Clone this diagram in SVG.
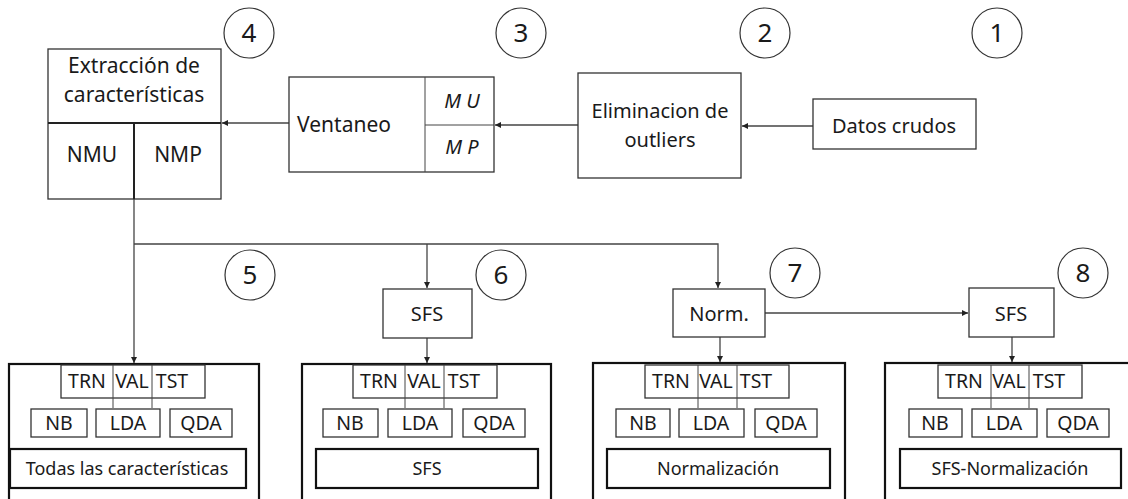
<svg xmlns="http://www.w3.org/2000/svg" width="1128" height="499" viewBox="0 0 1128 499">
<defs>
<marker id="ah" viewBox="0 0 10 10" refX="10" refY="5" markerWidth="6" markerHeight="6" markerUnits="userSpaceOnUse" orient="auto">
<path d="M0,0 L10,5 L0,10 z" fill="#222"/>
</marker>
<style>
text{font-family:"Noto Sans","Open Sans",sans-serif;fill:#1a1a1a;text-anchor:middle}
.t20{font-size:20px}
.t21{font-size:21px}
.t19{font-size:19.5px}
.t18{font-size:18px}
.num{font-size:26px}
.it{font-size:20px;font-style:italic}
.box{fill:#fff;stroke:#333;stroke-width:1.3}
.thick{fill:none;stroke:#111;stroke-width:2.2}
.div{stroke:#222;stroke-width:2;fill:none}
.thin{stroke:#444;stroke-width:1;fill:none}
.circ{fill:#fff;stroke:#333;stroke-width:1.2}
.con{stroke:#444;stroke-width:1.3;fill:none}
</style>
</defs>
<rect width="1128" height="499" fill="#fff"/>

<g id="connectors">
<line class="con" x1="813" y1="126" x2="742" y2="126" marker-end="url(#ah)"/>
<line class="con" x1="578" y1="125" x2="495" y2="125" marker-end="url(#ah)"/>
<line class="con" x1="289" y1="123" x2="222" y2="123" marker-end="url(#ah)"/>
<line class="con" x1="134" y1="199" x2="134" y2="363" marker-end="url(#ah)"/>
<polyline class="con" points="134,244 718,244 718,288" marker-end="url(#ah)"/>
<line class="con" x1="427" y1="244" x2="427" y2="288" marker-end="url(#ah)"/>
<line class="con" x1="427" y1="338" x2="427" y2="363" marker-end="url(#ah)"/>
<line class="con" x1="720" y1="337" x2="720" y2="362" marker-end="url(#ah)"/>
<line class="con" x1="765" y1="313" x2="968" y2="313" marker-end="url(#ah)"/>
<line class="con" x1="1012" y1="337" x2="1012" y2="362" marker-end="url(#ah)"/>
</g>

<g id="circles">
<g id="c1"><circle class="circ" cx="997" cy="33" r="25"/><text class="num" x="997" y="42">1</text></g>
<g id="c2"><circle class="circ" cx="765" cy="33" r="25"/><text class="num" x="765" y="42">2</text></g>
<g id="c3"><circle class="circ" cx="521" cy="33" r="25"/><text class="num" x="521" y="42">3</text></g>
<g id="c4"><circle class="circ" cx="249" cy="33" r="25"/><text class="num" x="249" y="42">4</text></g>
<g id="c5"><circle class="circ" cx="250" cy="275" r="25"/><text class="num" x="250" y="284">5</text></g>
<g id="c6"><circle class="circ" cx="501" cy="275" r="25"/><text class="num" x="501" y="284">6</text></g>
<g id="c7"><circle class="circ" cx="795" cy="273" r="25"/><text class="num" x="795" y="282">7</text></g>
<g id="c8"><circle class="circ" cx="1083" cy="273" r="25"/><text class="num" x="1083" y="282">8</text></g>
</g>

<g id="datos">
<rect class="box" x="813" y="99" width="163" height="50"/>
<text class="t20" x="894" y="133">Datos crudos</text>
</g>

<g id="outliers">
<rect class="box" x="578" y="73" width="163" height="105"/>
<text class="t20" x="660" y="118">Eliminacion de</text>
<text class="t20" x="660" y="147">outliers</text>
</g>

<g id="ventaneo">
<rect class="box" x="289" y="77" width="205" height="95"/>
<line class="thin" x1="425" y1="77" x2="425" y2="172"/>
<line class="thin" x1="425" y1="125" x2="494" y2="125"/>
<text class="t21" x="344" y="132">Ventaneo</text>
<text class="it" x="462" y="108">M U</text>
<text class="it" x="462" y="154">M P</text>
</g>

<g id="extraccion">
<rect class="box" x="48" y="49" width="173" height="150"/>
<line class="div" x1="48" y1="123" x2="221" y2="123"/>
<line class="div" x1="134" y1="123" x2="134" y2="199"/>
<text class="t21" x="134" y="73">Extracción de</text>
<text class="t21" x="134" y="102">características</text>
<text class="t21" x="92" y="162">NMU</text>
<text class="t21" x="178" y="162">NMP</text>
</g>

<g id="sfs1">
<rect class="box" x="383" y="289" width="89" height="49"/>
<text class="t20" x="427" y="321">SFS</text>
</g>
<g id="norm">
<rect class="box" x="673" y="289" width="92" height="48"/>
<text class="t20" x="719" y="321">Norm.</text>
</g>
<g id="sfs2">
<rect class="box" x="969" y="288" width="85" height="49"/>
<text class="t20" x="1011" y="321">SFS</text>
</g>

<g id="panel1">
<rect class="thick" x="9" y="364" width="250" height="150"/>
<rect class="box" x="61" y="365" width="144" height="33"/>
<line class="thin" x1="113" y1="365" x2="113" y2="408"/>
<line class="thin" x1="152" y1="365" x2="152" y2="408"/>
<text class="t19" x="87" y="388">TRN</text><text class="t19" x="132" y="388">VAL</text><text class="t19" x="172" y="388">TST</text>
<rect class="box" x="31" y="409" width="56" height="28"/><text class="t19" x="59" y="430">NB</text>
<rect class="box" x="96" y="409" width="64" height="28"/><text class="t19" x="128" y="430">LDA</text>
<rect class="box" x="170" y="409" width="62" height="28"/><text class="t19" x="201" y="430">QDA</text>
<rect class="thick" x="10" y="449" width="236" height="39"/>
<text class="t18" x="127" y="475">Todas las características</text>
</g>

<g id="panel2">
<rect class="thick" x="302" y="364" width="249" height="150"/>
<rect class="box" x="353" y="365" width="144" height="33"/>
<line class="thin" x1="405" y1="365" x2="405" y2="408"/>
<line class="thin" x1="444" y1="365" x2="444" y2="408"/>
<text class="t19" x="379" y="388">TRN</text><text class="t19" x="424" y="388">VAL</text><text class="t19" x="464" y="388">TST</text>
<rect class="box" x="323" y="409" width="55" height="28"/><text class="t19" x="350" y="430">NB</text>
<rect class="box" x="388" y="409" width="64" height="28"/><text class="t19" x="420" y="430">LDA</text>
<rect class="box" x="463" y="409" width="62" height="28"/><text class="t19" x="494" y="430">QDA</text>
<rect class="thick" x="316" y="449" width="222" height="39"/>
<text class="t18" x="427" y="475">SFS</text>
</g>

<g id="panel3">
<rect class="thick" x="593" y="363" width="252" height="150"/>
<rect class="box" x="645" y="365" width="144" height="33"/>
<line class="thin" x1="698" y1="365" x2="698" y2="408"/>
<line class="thin" x1="737" y1="365" x2="737" y2="408"/>
<text class="t19" x="671" y="388">TRN</text><text class="t19" x="716" y="388">VAL</text><text class="t19" x="756" y="388">TST</text>
<rect class="box" x="616" y="409" width="54" height="28"/><text class="t19" x="643" y="430">NB</text>
<rect class="box" x="679" y="409" width="65" height="28"/><text class="t19" x="711" y="430">LDA</text>
<rect class="box" x="755" y="409" width="62" height="28"/><text class="t19" x="786" y="430">QDA</text>
<rect class="thick" x="607" y="449" width="223" height="39"/>
<text class="t18" x="718" y="475">Normalización</text>
</g>

<g id="panel4">
<rect class="thick" x="885" y="363" width="252" height="150"/>
<rect class="box" x="938" y="365" width="144" height="33"/>
<line class="thin" x1="991" y1="365" x2="991" y2="408"/>
<line class="thin" x1="1029" y1="365" x2="1029" y2="408"/>
<text class="t19" x="964" y="388">TRN</text><text class="t19" x="1009" y="388">VAL</text><text class="t19" x="1049" y="388">TST</text>
<rect class="box" x="909" y="409" width="53" height="28"/><text class="t19" x="935" y="430">NB</text>
<rect class="box" x="972" y="409" width="65" height="28"/><text class="t19" x="1004" y="430">LDA</text>
<rect class="box" x="1047" y="409" width="62" height="28"/><text class="t19" x="1078" y="430">QDA</text>
<rect class="thick" x="900" y="449" width="221" height="39"/>
<text class="t18" x="1010" y="475">SFS-Normalización</text>
</g>
</svg>
